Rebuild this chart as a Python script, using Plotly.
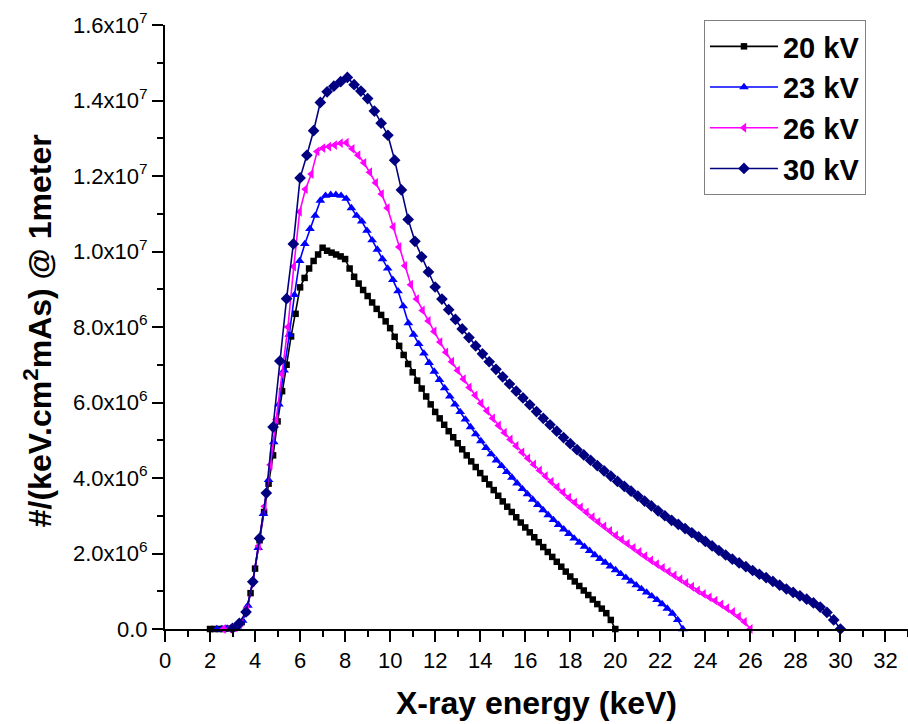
import plotly.graph_objects as go

# Tube voltages (kV) and their series names
tube_kv = [20, 23, 26, 30]
series_names = ["20 kV", "23 kV", "26 kV", "30 kV"]

# Spectra are sampled from 10 % to 100 % of the tube voltage in 1 % steps
rel_steps = [i / 100 for i in range(10, 101)]
energy_20 = [round(20 * r, 2) for r in rel_steps]
energy_23 = [round(23 * r, 2) for r in rel_steps]
energy_26 = [round(26 * r, 2) for r in rel_steps]
energy_30 = [round(30 * r, 2) for r in rel_steps]

# Photon fluence, in units of 1e6 photons/(keV.cm^2.mAs) at 1 m
fluence_20 = [
    0.00, 0.00, 0.00, 0.00, 0.01, 0.02, 0.06, 0.18, 0.45, 0.95,
    1.60, 2.35, 3.10, 3.85, 4.60, 5.50, 6.30, 7.00, 7.75, 8.35,
    9.05, 9.30, 9.55, 9.75, 9.92, 10.10, 10.02, 9.97, 9.92, 9.87,
    9.80, 9.55, 9.33, 9.15, 8.98, 8.82, 8.65, 8.48, 8.32, 8.15,
    7.97, 7.74, 7.50, 7.26, 7.02, 6.80, 6.58, 6.37, 6.16, 5.95,
    5.75, 5.58, 5.41, 5.24, 5.08, 4.92, 4.76, 4.60, 4.44, 4.29,
    4.13, 3.98, 3.83, 3.68, 3.53, 3.38, 3.24, 3.10, 2.96, 2.82,
    2.69, 2.56, 2.43, 2.30, 2.17, 2.04, 1.91, 1.78, 1.65, 1.52,
    1.39, 1.26, 1.14, 1.02, 0.90, 0.78, 0.66, 0.54, 0.42, 0.24,
    0.00,
]
fluence_23 = [
    0.00, 0.00, 0.01, 0.02, 0.07, 0.22, 0.62, 1.30, 2.15, 3.05,
    3.95, 4.95, 5.95, 6.85, 7.80, 8.85, 9.75, 10.20, 10.60, 10.95,
    11.35, 11.48, 11.50, 11.50, 11.48, 11.40, 11.15, 10.95, 10.80, 10.55,
    10.30, 10.05, 9.80, 9.55, 9.25, 8.95, 8.55, 8.10, 7.80, 7.55,
    7.30, 7.05, 6.82, 6.60, 6.38, 6.16, 5.95, 5.75, 5.55, 5.35,
    5.16, 4.98, 4.80, 4.63, 4.47, 4.32, 4.16, 4.01, 3.86, 3.71,
    3.57, 3.43, 3.29, 3.15, 3.02, 2.89, 2.76, 2.64, 2.52, 2.40,
    2.29, 2.18, 2.07, 1.96, 1.86, 1.76, 1.66, 1.56, 1.46, 1.36,
    1.26, 1.16, 1.06, 0.97, 0.87, 0.77, 0.66, 0.54, 0.41, 0.24,
    0.00,
]
fluence_26 = [
    0.00, 0.01, 0.04, 0.17, 0.55, 1.25, 2.20, 3.25, 4.35, 5.55,
    6.75, 8.00, 9.60, 11.05, 11.65, 12.05, 12.65, 12.74, 12.78, 12.82,
    12.87, 12.88, 12.72, 12.55, 12.35, 12.10, 11.82, 11.52, 11.15, 10.65,
    10.12, 9.62, 9.12, 8.74, 8.44, 8.16, 7.88, 7.60, 7.33, 7.08,
    6.85, 6.62, 6.40, 6.19, 5.98, 5.78, 5.58, 5.39, 5.20, 5.02,
    4.85, 4.68, 4.52, 4.36, 4.20, 4.05, 3.90, 3.76, 3.62, 3.48,
    3.35, 3.22, 3.09, 2.96, 2.84, 2.72, 2.60, 2.48, 2.37, 2.26,
    2.15, 2.04, 1.93, 1.82, 1.72, 1.62, 1.52, 1.42, 1.32, 1.22,
    1.12, 1.02, 0.93, 0.84, 0.75, 0.65, 0.55, 0.45, 0.33, 0.19,
    0.00,
]
fluence_30 = [
    0.02, 0.15, 0.45, 1.25, 2.40, 3.60, 5.35, 7.10, 8.75, 10.20,
    11.95, 12.55, 13.20, 13.95, 14.23, 14.38, 14.50, 14.61, 14.42, 14.25,
    14.05, 13.72, 13.40, 13.08, 12.42, 11.63, 10.85, 10.27, 9.86, 9.46,
    9.06, 8.74, 8.46, 8.20, 7.95, 7.72, 7.50, 7.29, 7.08, 6.88,
    6.68, 6.49, 6.30, 6.12, 5.94, 5.76, 5.58, 5.41, 5.24, 5.07,
    4.91, 4.75, 4.61, 4.47, 4.33, 4.19, 4.05, 3.91, 3.78, 3.65,
    3.52, 3.39, 3.26, 3.13, 3.00, 2.88, 2.77, 2.66, 2.55, 2.44,
    2.32, 2.20, 2.08, 1.96, 1.85, 1.75, 1.65, 1.55, 1.45, 1.36,
    1.26, 1.16, 1.06, 0.97, 0.88, 0.79, 0.69, 0.58, 0.44, 0.24,
    0.00,
]

# Y-axis tick values and their labels
y_tickvals = [0, 2e6, 4e6, 6e6, 8e6, 1e7, 1.2e7, 1.4e7, 1.6e7]
y_ticktext = [
    "0.0",
    "2.0x10<sup>6</sup>", "4.0x10<sup>6</sup>", "6.0x10<sup>6</sup>", "8.0x10<sup>6</sup>",
    "1.0x10<sup>7</sup>", "1.2x10<sup>7</sup>", "1.4x10<sup>7</sup>", "1.6x10<sup>7</sup>",
]

energies = [energy_20, energy_23, energy_26, energy_30]
fluences = [fluence_20, fluence_23, fluence_26, fluence_30]
colors = ["#000000", "#0000FF", "#FF00FF", "#000080"]
symbols = ["square", "triangle-up", "triangle-left", "diamond"]
msizes = [6.5, 8.5, 8.5, 9]

FONT = "Liberation Sans, Arial, sans-serif"

fig = go.Figure()
for name, e, f, c, s, ms in zip(series_names, energies, fluences, colors, symbols, msizes):
    fig.add_trace(go.Scatter(
        x=e,
        y=[v * 1e6 for v in f],
        name=name,
        mode="lines+markers",
        line=dict(color=c, width=1.6),
        marker=dict(symbol=s, size=ms, color=c, line=dict(width=0)),
        cliponaxis=False,
    ))

axis_common = dict(
    showline=True, linecolor="black", linewidth=2,
    ticks="outside", ticklen=11, tickwidth=2, tickcolor="black",
    showgrid=False, zeroline=False, mirror=False,
    tickfont=dict(family=FONT, size=22, color="black"),
    automargin=False,
)

fig.update_xaxes(
    range=[0, 33], tickmode="linear", tick0=0, dtick=2,
    minor=dict(ticks="outside", ticklen=6, tickwidth=2, tickcolor="black",
               tickmode="linear", tick0=0, dtick=1, showgrid=False),
    **axis_common,
)
fig.update_yaxes(
    range=[0, 1.6e7], tickmode="array", tickvals=y_tickvals, ticktext=y_ticktext,
    minor=dict(ticks="outside", ticklen=6, tickwidth=2, tickcolor="black",
               tickmode="linear", tick0=0, dtick=1e6, showgrid=False),
    **axis_common,
)

fig.add_annotation(
    text="<b>X-ray energy (keV)</b>",
    xref="paper", yref="paper", x=0.5, y=0, yshift=-74,
    xanchor="center", yanchor="middle", showarrow=False,
    font=dict(family=FONT, size=32, color="black"),
)
fig.add_annotation(
    text="<b>#/(keV.cm<sup>2</sup>mAs) @ 1meter</b>",
    xref="paper", yref="paper", x=0, xshift=-127, y=0.493,
    xanchor="center", yanchor="middle", textangle=-90, showarrow=False,
    font=dict(family=FONT, size=32, color="black"),
)

fig.update_layout(
    width=908, height=724,
    margin=dict(l=165, r=0, t=25, b=95),
    paper_bgcolor="white", plot_bgcolor="white",
    showlegend=True,
    legend=dict(
        x=0.7254, y=1.0083, xanchor="left", yanchor="top",
        bgcolor="white", bordercolor="#808080", borderwidth=1,
        font=dict(family=FONT, size=29, color="black", weight="bold"),
        itemwidth=68, tracegroupgap=0,
    ),
)

fig.write_html("out.html")
